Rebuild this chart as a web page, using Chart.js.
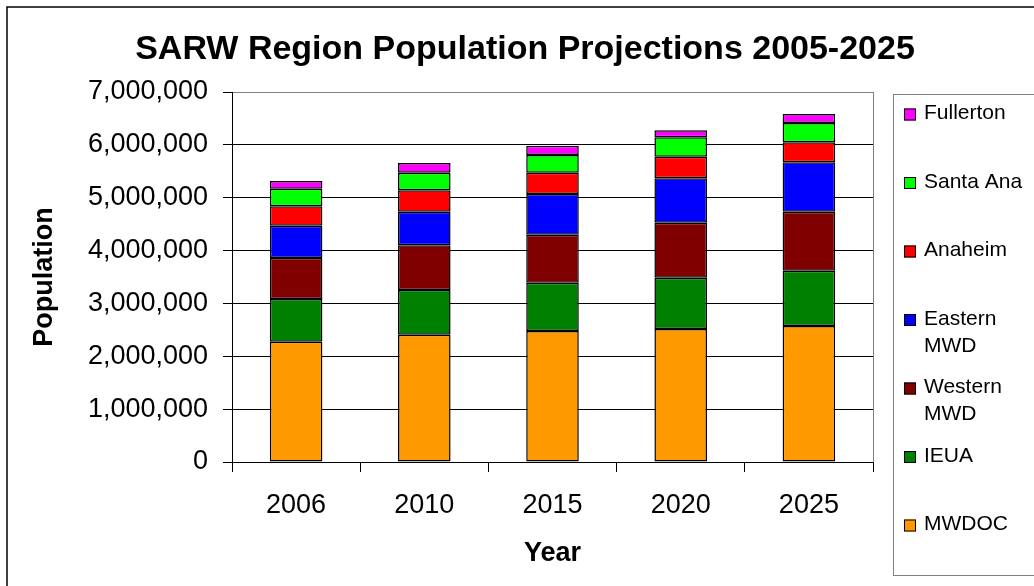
<!DOCTYPE html>
<html>
<head>
<meta charset="utf-8">
<script src="https://cdn.jsdelivr.net/npm/chart.js@4/dist/chart.umd.min.js"></script>
<style>
    body { margin: 0; background: #fff; }
    #wrap { width: 1034px; height: 586px; }
</style>
</head>
<body>
<div id="wrap"><canvas id="popChart" width="1034" height="586"></canvas></div>
<script>
var years = ["2006", "2010", "2015", "2020", "2025"];
var mwdoc = [2277000, 2409000, 2478000, 2516000, 2573000];
var ieua = [807000, 845000, 915000, 971000, 1047000];
var westernMwd = [775000, 845000, 908000, 1041000, 1116000];
var easternMwd = [612000, 637000, 769000, 839000, 933000];
var anaheim = [366000, 404000, 404000, 410000, 379000];
var santaAna = [334000, 334000, 334000, 365000, 366000];
var fullerton = [145000, 183000, 177000, 133000, 170000];

var seriesNames = ["MWDOC", "IEUA", "Western\nMWD", "Eastern\nMWD", "Anaheim", "Santa Ana", "Fullerton"];
var seriesValues = [mwdoc, ieua, westernMwd, easternMwd, anaheim, santaAna, fullerton];
var seriesColors = ["#FF9900", "#008000", "#800000", "#0000FF", "#FF0000", "#00FF00", "#FF00FF"];
var yTicks = [0, 1000000, 2000000, 3000000, 4000000, 5000000, 6000000, 7000000];

var FONT = '"Liberation Sans", Arial, sans-serif';

var dataList = [];
for (let i = 0; i < seriesNames.length; i++) {
    dataList.push({
        label: seriesNames[i],
        data: seriesValues[i],
        backgroundColor: seriesColors[i],
        borderColor: "#000",
        borderWidth: 1.5,
        borderSkipped: false,
        barPercentage: 0.41,
        categoryPercentage: 1.0
    });
}

// title, legend box, outer frame, plot border
var extras = {
    id: "extras",
    afterDraw(chart) {
        var ctx = chart.ctx;
        var area = chart.chartArea;
        ctx.save();

        ctx.strokeStyle = "#000";
        ctx.lineWidth = 1.5;
        ctx.strokeRect(7, 7, 1100, 1100);

        ctx.strokeStyle = "#808080";
        ctx.lineWidth = 1;
        ctx.beginPath();
        ctx.moveTo(area.right + 0.5, area.top);
        ctx.lineTo(area.right + 0.5, area.bottom);
        ctx.stroke();

        ctx.fillStyle = "#000";
        ctx.font = "bold 34px " + FONT;
        ctx.textAlign = "center";
        ctx.textBaseline = "alphabetic";
        ctx.fillText("SARW Region Population Projections 2005-2025", 525, 59);

        ctx.strokeStyle = "#808080";
        ctx.strokeRect(893.5, 94.5, 300, 481);

        var sets = chart.data.datasets;
        ctx.font = "21px " + FONT;
        ctx.textAlign = "left";
        ctx.textBaseline = "middle";
        for (let k = 0; k < sets.length; k++) {
            var ds = sets[sets.length - 1 - k];
            var cy = 114.5 + k * 68.5;
            ctx.fillStyle = ds.backgroundColor;
            ctx.fillRect(904, cy - 6, 12, 12);
            ctx.strokeStyle = "#000";
            ctx.lineWidth = 1;
            ctx.strokeRect(904.5, cy - 5.5, 11, 11);
            ctx.fillStyle = "#000";
            var lines = ds.label.split("\n");
            for (let j = 0; j < lines.length; j++) {
                ctx.fillText(lines[j], 924, cy - 1 + j * 27);
            }
        }
        ctx.restore();
    }
};

var ctx = document.getElementById("popChart").getContext("2d");
var chart = new Chart(ctx, {
    type: "bar",
    data: { labels: years, datasets: dataList },
    options: {
        responsive: false,
        animation: false,
        layout: { padding: { top: 92, right: 161, bottom: 0, left: 0 } },
        plugins: {
            legend: { display: false },
            title: { display: false },
            tooltip: { enabled: false }
        },
        scales: {
            x: {
                stacked: true,
                afterFit: function(scale) { scale.height = 124; },
                grid: { drawOnChartArea: false, drawTicks: true, tickLength: 10, tickColor: "#000", offset: true },
                border: { color: "#000", width: 1 },
                ticks: { color: "#000", font: { family: FONT, size: 27 }, padding: 17, maxRotation: 0 },
                title: { display: true, text: "Year", color: "#000", font: { family: FONT, size: 27, weight: "bold" }, padding: { top: 0, bottom: 16 } }
            },
            y: {
                stacked: true,
                min: 0,
                max: 7000000,
                afterFit: function(scale) { scale.width = 232; },
                afterBuildTicks: function(scale) { scale.ticks = yTicks.map(function(v) { return { value: v }; }); },
                grid: {
                    color: function(c) { return c.tick && c.tick.value === 7000000 ? "#808080" : "#000"; },
                    tickColor: "#000",
                    tickLength: 9
                },
                border: { color: "#000", width: 1 },
                ticks: {
                    color: "#000",
                    font: { family: FONT, size: 27 },
                    padding: 15,
                    callback: function(v) { return Number(v).toLocaleString("en-US"); }
                },
                title: { display: true, text: "Population", color: "#000", font: { family: FONT, size: 27, weight: "bold" }, padding: { top: 28, bottom: 0 } }
            }
        }
    },
    plugins: [extras]
});
</script>
</body>
</html>
